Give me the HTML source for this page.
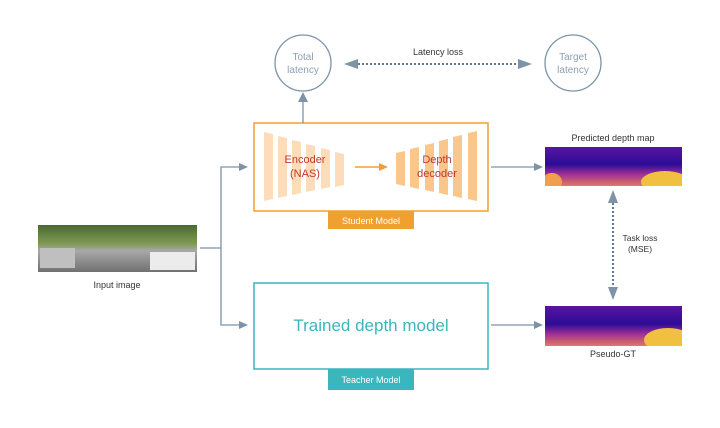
<!DOCTYPE html>
<html><head><meta charset="utf-8"><style>
html,body{margin:0;padding:0;background:#fff;}
svg{display:block;font-family:"Liberation Sans",sans-serif;}
</style></head><body>
<svg width="720" height="428" viewBox="0 0 720 428" xmlns="http://www.w3.org/2000/svg">
<defs>
<linearGradient id="dm" x1="0" y1="0" x2="0" y2="1">
<stop offset="0" stop-color="#5a14a0"/><stop offset="0.45" stop-color="#2c0c98"/><stop offset="0.7" stop-color="#a03094"/><stop offset="1" stop-color="#e07a60"/>
</linearGradient>
<linearGradient id="img" x1="0" y1="0" x2="0" y2="1">
<stop offset="0" stop-color="#4a6a30"/><stop offset="0.4" stop-color="#7f9a55"/><stop offset="0.55" stop-color="#a8a8a8"/><stop offset="1" stop-color="#707070"/>
</linearGradient>
<clipPath id="c1"><rect x="545" y="147" width="137" height="39"/></clipPath>
<clipPath id="c2"><rect x="545" y="306" width="137" height="40"/></clipPath>
</defs>
<g fill="none" stroke="#7c93a8" stroke-width="1.3">
<circle cx="303" cy="63" r="28"/>
<circle cx="573" cy="63" r="28"/>
</g>
<text x="303" y="60" font-size="10" fill="#8da0b3" text-anchor="middle">Total</text>
<text x="303" y="73" font-size="10" fill="#8da0b3" text-anchor="middle">latency</text>
<text x="573" y="60" font-size="10" fill="#8da0b3" text-anchor="middle">Target</text>
<text x="573" y="73" font-size="10" fill="#8da0b3" text-anchor="middle">latency</text>
<text x="438" y="55" font-size="9" fill="#333" text-anchor="middle">Latency loss</text>
<line x1="358" y1="64" x2="518" y2="64" stroke="#5f7a96" stroke-width="2" stroke-dasharray="2,2"/>
<polygon points="344,64 358,59 358,69" fill="#7c93a8"/>
<polygon points="532,64 518,59 518,69" fill="#7c93a8"/>
<rect x="254" y="123" width="234" height="88" fill="none" stroke="#f0a030" stroke-width="1.5"/>
<rect x="328" y="211" width="86" height="18" fill="#f0a030"/>
<text x="371" y="224" font-size="9" fill="#fff" text-anchor="middle">Student Model</text>
<line x1="303" y1="123" x2="303" y2="101" stroke="#7c93a8" stroke-width="1.3"/>
<polygon points="303,92 298,102 308,102" fill="#7c93a8"/>
<g fill="#fddcba">
<polygon points="264,132 273,134 273,199 264,201"/>
<polygon points="278,136 287,138 287,196 278,198"/>
<polygon points="292,140 301,142 301,193 292,195"/>
<polygon points="306,144 315,146 315,190 306,192"/>
<polygon points="321,148 330,150 330,187 321,189"/>
<polygon points="335,152 344,154 344,185 335,187"/>
</g>
<g fill="#f9c68c">
<polygon points="396,153 405,151 405,186 396,184"/>
<polygon points="410,149 419,147 419,189 410,187"/>
<polygon points="425,145 434,143 434,192 425,190"/>
<polygon points="439,141 448,139 448,195 439,193"/>
<polygon points="453,137 462,135 462,198 453,196"/>
<polygon points="468,133 477,131 477,201 468,199"/>
</g>
<text x="305" y="163" font-size="11" fill="#c0392b" text-anchor="middle">Encoder</text>
<text x="305" y="177" font-size="11" fill="#c0392b" text-anchor="middle">(NAS)</text>
<text x="437" y="163" font-size="11" fill="#c0392b" text-anchor="middle">Depth</text>
<text x="437" y="177" font-size="11" fill="#c0392b" text-anchor="middle">decoder</text>
<line x1="355" y1="167" x2="380" y2="167" stroke="#f0a030" stroke-width="1.5"/>
<polygon points="388,167 379,163 379,171" fill="#f0a030"/>
<rect x="254" y="283" width="234" height="86" fill="none" stroke="#3bb6bd" stroke-width="1.5"/>
<rect x="328" y="369" width="86" height="21" fill="#3bb6bd"/>
<text x="371" y="383" font-size="9" fill="#fff" text-anchor="middle">Teacher Model</text>
<text x="371" y="331" font-size="17" fill="#3bb6bd" text-anchor="middle">Trained depth model</text>
<rect x="38" y="225" width="159" height="47" fill="url(#img)"/>
<rect x="150" y="252" width="45" height="18" fill="#ececec"/>
<rect x="40" y="248" width="35" height="20" fill="#bfbfbf"/>
<text x="117" y="288" font-size="9" fill="#333" text-anchor="middle">Input image</text>
<g stroke="#7c93a8" stroke-width="1.3" fill="none">
<polyline points="200,248 221,248"/>
<polyline points="240,167 221,167 221,325 240,325"/>
<line x1="491" y1="167" x2="535" y2="167"/>
<line x1="491" y1="325" x2="535" y2="325"/>
</g>
<polygon points="248,167 239,163 239,171" fill="#7c93a8"/>
<polygon points="248,325 239,321 239,329" fill="#7c93a8"/>
<polygon points="543,167 534,163 534,171" fill="#7c93a8"/>
<polygon points="543,325 534,321 534,329" fill="#7c93a8"/>
<text x="613" y="141" font-size="9" fill="#333" text-anchor="middle">Predicted depth map</text>
<rect x="545" y="147" width="137" height="39" fill="url(#dm)"/>
<g clip-path="url(#c1)">
<ellipse cx="665" cy="182" rx="24" ry="11" fill="#f2c040"/>
<ellipse cx="552" cy="182" rx="10" ry="9" fill="#eea050"/>
</g>
<text x="613" y="357" font-size="9" fill="#333" text-anchor="middle">Pseudo-GT</text>
<rect x="545" y="306" width="137" height="40" fill="url(#dm)"/>
<g clip-path="url(#c2)">
<ellipse cx="668" cy="340" rx="24" ry="12" fill="#f2c040"/>
</g>
<line x1="613" y1="203" x2="613" y2="287" stroke="#5f7a96" stroke-width="2" stroke-dasharray="2,2"/>
<polygon points="613,190 608,203 618,203" fill="#7c93a8"/>
<polygon points="613,300 608,287 618,287" fill="#7c93a8"/>
<text x="640" y="241" font-size="8.5" fill="#333" text-anchor="middle">Task loss</text>
<text x="640" y="252" font-size="8.5" fill="#333" text-anchor="middle">(MSE)</text>
</svg>
</body></html>
